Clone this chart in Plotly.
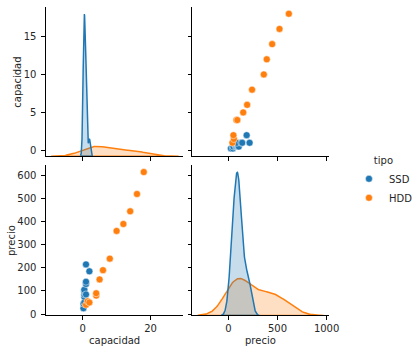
import numpy as np
import plotly.graph_objects as go

# ---- data ----
tipos = ["SSD", "HDD"]
ssd_capacidad = [0.25, 0.25, 0.5, 0.5, 0.5, 0.5, 0.5, 0.5, 1, 1, 1, 1, 2]
ssd_precio = [25, 45, 50, 75, 85, 95, 100, 105, 85, 130, 140, 215, 185]
hdd_capacidad = [1, 1.5, 2, 4, 4, 5, 6, 8, 10, 12, 14, 16, 18]
hdd_precio = [40, 55, 50, 80, 90, 150, 190, 240, 360, 390, 445, 520, 615]

cap_ticks = [0, 20]
precio_ticks_x = [0, 500, 1000]
cap_ticks_y = [0, 5, 10, 15]
precio_ticks_y = [0, 100, 200, 300, 400, 500, 600]

colors = {"SSD": "#1f77b4", "HDD": "#ff7f0e"}
fills = {"SSD": "rgba(31,119,180,0.25)", "HDD": "rgba(255,127,14,0.25)"}
data = {"SSD": (ssd_capacidad, ssd_precio), "HDD": (hdd_capacidad, hdd_precio)}
n_total = len(ssd_capacidad) + len(hdd_capacidad)


def kde(vals, frac):
    v = np.asarray(vals, float)
    n = len(v)
    bw = n ** (-0.2) * np.std(v, ddof=1)
    grid = np.linspace(v.min() - 3 * bw, v.max() + 3 * bw, 200)
    d = np.exp(-0.5 * ((grid[:, None] - v[None, :]) / bw) ** 2).sum(1)
    d = d / (n * bw * np.sqrt(2 * np.pi)) * frac
    return grid, d


W, H = 419, 357
c1 = [47 / W, 187 / W]
c2 = [197 / W, 337 / W]
r1 = [1 - 158 / H, 1 - 7 / H]
r2 = [1 - 319 / H, 1 - 167 / H]

fig = go.Figure()

# base (empty) subplots for the diagonal panels so their axes get drawn
fig.add_trace(go.Scatter(x=[None], y=[None], xaxis="x3", yaxis="y", showlegend=False, hoverinfo="skip"))
fig.add_trace(go.Scatter(x=[None], y=[None], xaxis="x2", yaxis="y3", showlegend=False, hoverinfo="skip"))

max_cap = 0
max_pre = 0
for t in ["HDD", "SSD"]:
    cap, pre = data[t]
    frac = len(cap) / n_total
    g, d = kde(cap, frac)
    max_cap = max(max_cap, d.max())
    fig.add_trace(go.Scatter(x=list(g) + [g[-1], g[0]], y=list(d) + [0, 0], mode="lines",
                             fill="toself", fillcolor=fills[t],
                             line=dict(color=colors[t], width=1.5),
                             xaxis="x3", yaxis="y5", showlegend=False, hoverinfo="skip"))
    g, d = kde(pre, frac)
    max_pre = max(max_pre, d.max())
    fig.add_trace(go.Scatter(x=list(g) + [g[-1], g[0]], y=list(d) + [0, 0], mode="lines",
                             fill="toself", fillcolor=fills[t],
                             line=dict(color=colors[t], width=1.5),
                             xaxis="x2", yaxis="y6", showlegend=False, hoverinfo="skip"))

for t in tipos:
    cap, pre = data[t]
    mk = dict(color=colors[t], size=7, line=dict(color="white", width=0.5))
    fig.add_trace(go.Scatter(x=pre, y=cap, mode="markers", marker=mk, name=t,
                             showlegend=True, xaxis="x4", yaxis="y4"))
    fig.add_trace(go.Scatter(x=cap, y=pre, mode="markers", marker=mk, name=t,
                             showlegend=False, xaxis="x", yaxis="y2"))

common = dict(showline=True, linecolor="black", linewidth=1, ticks="outside", ticklen=3.5,
              tickwidth=0.8, tickcolor="black", showgrid=False, zeroline=False,
              tickfont=dict(size=10, color="#262626", family="DejaVu Sans"))

xr1 = [-10.8, 29.4]
xr2 = [-369, 1024]
yr1 = [-0.77, 18.9]
yr2 = [-6, 645]

fig.update_layout(
    width=W, height=H, margin=dict(l=0, r=0, t=0, b=0),
    plot_bgcolor="white", paper_bgcolor="white",
    font=dict(family="DejaVu Sans", size=10, color="#262626"),
    xaxis=dict(domain=c1, anchor="y2", range=xr1, tickvals=cap_ticks, **common),
    xaxis2=dict(domain=c2, anchor="y3", range=xr2, tickvals=precio_ticks_x, **common),
    xaxis3=dict(domain=c1, anchor="y", range=xr1, tickvals=cap_ticks, showticklabels=False, **common),
    xaxis4=dict(domain=c2, anchor="y4", range=xr2, tickvals=precio_ticks_x, showticklabels=False, **common),
    yaxis=dict(domain=r1, anchor="x3", range=yr1, tickvals=cap_ticks_y, ticklabelstandoff=3, **common),
    yaxis2=dict(domain=r2, anchor="x", range=yr2, tickvals=precio_ticks_y, ticklabelstandoff=3, **common),
    yaxis3=dict(domain=r2, anchor="x2", range=yr2, tickvals=precio_ticks_y, showticklabels=False, **common),
    yaxis4=dict(domain=r1, anchor="x4", range=yr1, tickvals=cap_ticks_y, showticklabels=False, **common),
    yaxis5=dict(domain=r1, overlaying="y", anchor="x3", range=[0, max_cap * 1.05], visible=False),
    yaxis6=dict(domain=r2, overlaying="y3", anchor="x2", range=[0, max_pre * 1.05], visible=False),
    legend=dict(x=357.5 / W, y=1 - 153 / H, xanchor="left", yanchor="top", tracegroupgap=0,
                title=dict(text="tipo", side="top center", font=dict(size=10)),
                font=dict(size=10), bgcolor="rgba(0,0,0,0)"),
    showlegend=True,
)

ann = [
    dict(text="capacidad", x=117, y=344, textangle=0),
    dict(text="precio", x=267, y=344, textangle=0),
    dict(text="capacidad", x=17, y=83, textangle=-90),
    dict(text="precio", x=12, y=243, textangle=-90),
]
for a in ann:
    fig.add_annotation(text=a["text"], x=a["x"] / W, y=1 - a["y"] / H, xref="paper", yref="paper",
                       showarrow=False, textangle=a["textangle"], xanchor="center", yanchor="middle",
                       font=dict(size=10, color="#262626", family="DejaVu Sans"))

fig.write_html("out.html", config={"displayModeBar": False},
               post_script="document.body.style.margin='0';")
